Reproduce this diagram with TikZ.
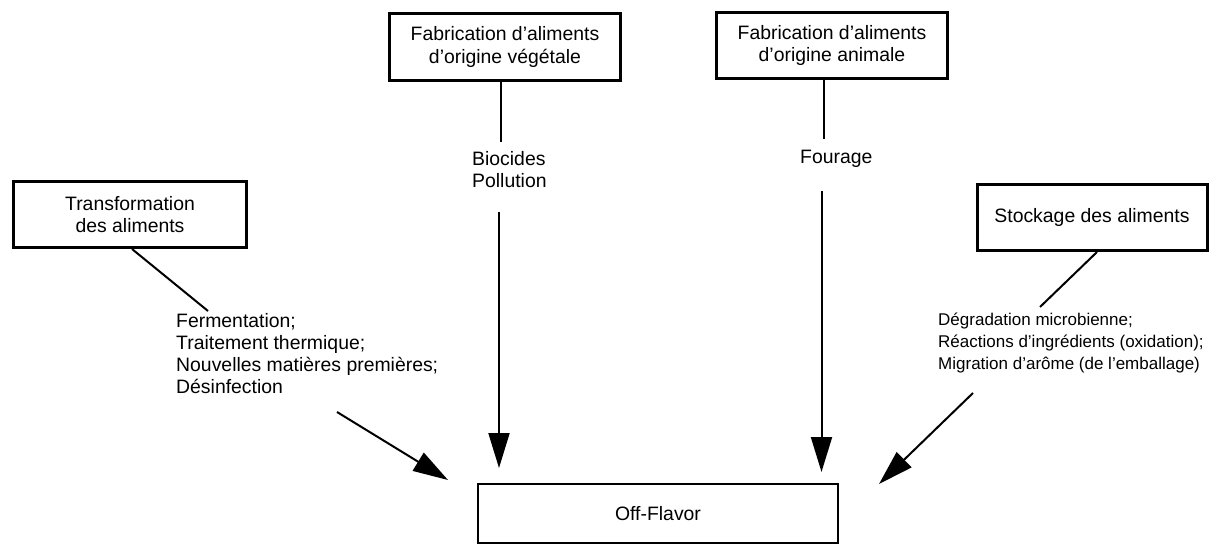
\documentclass[tikz,border=0pt]{standalone}
\usepackage{fontspec}
\setmainfont{Liberation Sans}
\usetikzlibrary{arrows.meta}
\tikzset{
  bigbox/.style={draw, line width=3pt, inner sep=0pt, align=center},
  offbox/.style={draw, line width=2.5pt, inner sep=0pt, align=center},
  lbl/.style={inner sep=0pt, align=left, anchor=north west},
  conn/.style={line width=2pt},
  arr/.style={line width=2pt, -{Triangle[length=35pt,width=21pt]}}
}
\begin{document}
\begin{tikzpicture}[x=1pt,y=-1pt,font=\fontsize{19.4}{22.5}\selectfont]
\useasboundingbox (0,0) rectangle (1210,545);
% boxes
\node[bigbox, minimum width=233pt, minimum height=66pt] (transf) at (130,214.5) {Transformation\\des aliments};
\node[bigbox, minimum width=231pt, minimum height=67pt] (veg) at (505,47) {Fabrication d’aliments\\d’origine végétale};
\node[bigbox, minimum width=231pt, minimum height=66pt] (anim) at (832,45.5) {Fabrication d’aliments\\d’origine animale};
\node[bigbox, minimum width=230pt, minimum height=66pt] (stock) at (1092,217.5) {Stockage des aliments};
\node[offbox, minimum width=360pt, minimum height=59pt] (off) at (658,513.5) {Off-Flavor};
% labels
\node[lbl] (bio) at (472,151) {Biocides\\Pollution};
\node[lbl] (four) at (800,150) {Fourage};
\node[lbl, font=\fontsize{19.4}{22}\selectfont] (tlab) at (176,313) {Fermentation;\\Traitement thermique;\\Nouvelles matières premières;\\Désinfection};
\node[lbl, font=\fontsize{17}{22}\selectfont] (slab) at (938,313) {Dégradation microbienne;\\Réactions d’ingrédients (oxidation);\\Migration d’arôme (de l’emballage)};
% coordinates
\coordinate (t1) at (208,311);
\coordinate (v1) at (500.5,142);
\coordinate (v2) at (499,212);
\coordinate (v3) at (499,468);
\coordinate (a1) at (823.5,139);
\coordinate (a2) at (821.5,191);
\coordinate (a3) at (821.5,472);
\coordinate (s0) at (1097,252);
\coordinate (s1) at (1040,307);
\coordinate (l1) at (337,412);
\coordinate (l2) at (448,480);
\coordinate (r1) at (973,393);
\coordinate (r2) at (879,484);
% connectors
\draw[conn] ([xshift=2pt]transf.south) -- (t1);
\draw[conn] (veg.south -| v1) -- (v1);
\draw[conn] (anim.south -| a1) -- (a1);
\draw[conn] (stock.south -| s0) -- (s1);
\draw[arr] (v2) -- (v3);
\draw[arr] (a2) -- (a3);
\draw[arr] (l1) -- (l2);
\draw[arr] (r1) -- (r2);
\end{tikzpicture}
\end{document}
